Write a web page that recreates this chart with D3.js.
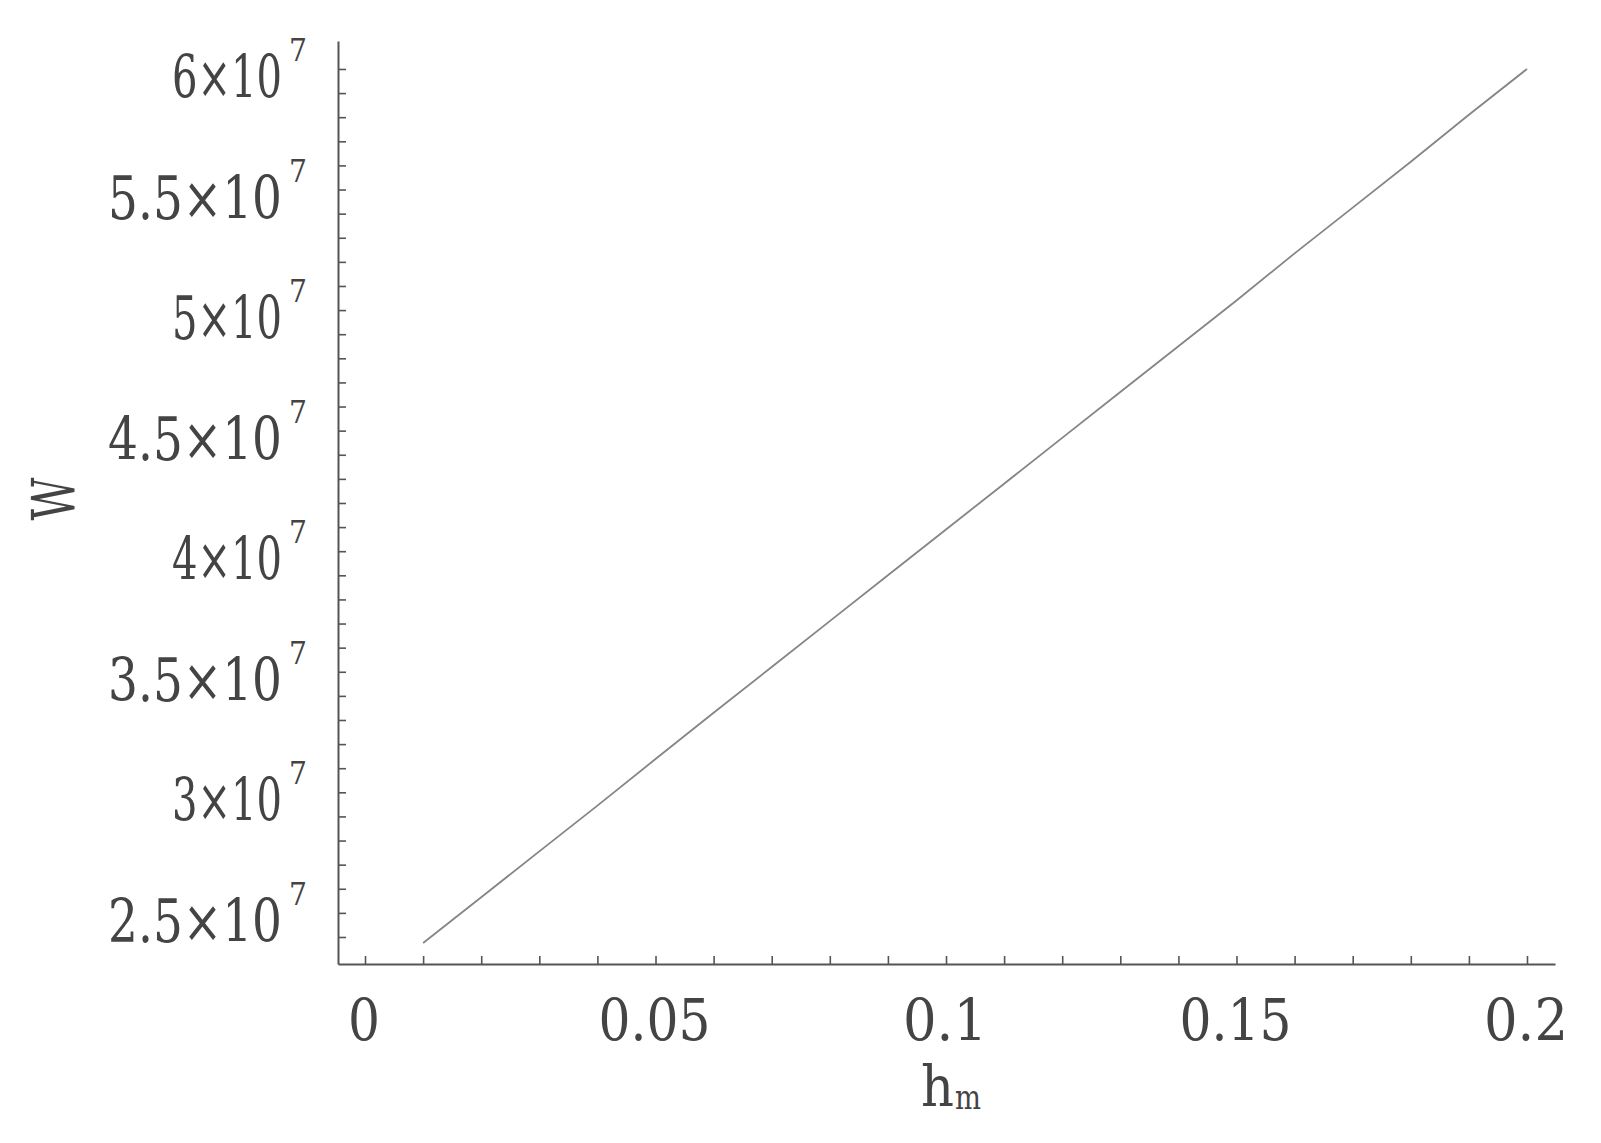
<!DOCTYPE html>
<html>
<head>
<meta charset="utf-8">
<script src="https://cdn.jsdelivr.net/npm/d3@7"></script>
<style>
  html, body { margin: 0; padding: 0; background: #fff; }
  svg { display: block; }
  text { font-family: "DejaVu Serif Condensed", "DejaVu Serif", serif; fill: #444; }
</style>
</head>
<body>
<svg id="chart" width="1601" height="1143"></svg>
<script>
// ---- data ----
const hValues = [0.01, 0.02, 0.03, 0.04, 0.05, 0.06, 0.07, 0.08, 0.09, 0.10,
                 0.11, 0.12, 0.13, 0.14, 0.15, 0.16, 0.17, 0.18, 0.19, 0.20];
const wValues = [2.375e7, 2.565e7, 2.755e7, 2.945e7, 3.138e7, 3.33e7, 3.52e7, 3.71e7, 3.90e7, 4.09e7,
                 4.28e7, 4.47e7, 4.66e7, 4.85e7, 5.04e7, 5.235e7, 5.425e7, 5.615e7, 5.81e7, 6.00e7];

const xTickValues = [0, 0.05, 0.1, 0.15, 0.2];
const xTickLabels = ["0", "0.05", "0.1", "0.15", "0.2"];
const xMinorTicks = d3.range(0, 21).map(i => i / 100);

const yTickValues = [2.5e7, 3e7, 3.5e7, 4e7, 4.5e7, 5e7, 5.5e7, 6e7];
const yTickMantissas = ["2.5", "3", "3.5", "4", "4.5", "5", "5.5", "6"];
const yTickExponent = "7";
const yMinorTicks = d3.range(24, 61).map(i => i * 1e6);

const xTitle = "h";
const xTitleSub = "m";
const yTitle = "W";

// ---- layout ----
const svg = d3.select("#chart");
const x = d3.scaleLinear().domain([-0.00465, 0.20482]).range([338, 1555]);
const y = d3.scaleLinear().domain([2.288e7, 6.116e7]).range([964, 41]);

const axisColor = "#555";

// squeeze a text horizontally to a target width; anchor: "start" | "middle" | "end"
function fitText(node, px, py, width, anchor) {
  const t = d3.select(node).attr("x", 0).attr("y", 0).attr("text-anchor", anchor);
  const natural = node.getComputedTextLength();
  const k = width / natural;
  t.attr("transform", `translate(${px},${py}) scale(${k},1)`);
}

// x axis (ticks pointing inward/up)
const gx = svg.append("g").attr("transform", `translate(0,${y.range()[0]})`)
  .call(d3.axisBottom(x).tickValues(xMinorTicks).tickSizeInner(-8).tickSizeOuter(0).tickFormat(""));
gx.select(".domain").attr("stroke", axisColor).attr("stroke-width", 2);
gx.selectAll(".tick line").attr("stroke", axisColor).attr("stroke-width", 1.6);

// y axis (ticks pointing inward/right)
const gy = svg.append("g").attr("transform", `translate(${x.range()[0]},0)`)
  .call(d3.axisLeft(y).tickValues(yMinorTicks).tickSizeInner(-8).tickSizeOuter(0).tickFormat(""));
gy.select(".domain").attr("stroke", axisColor).attr("stroke-width", 2);
gy.selectAll(".tick line").attr("stroke", axisColor).attr("stroke-width", 1.6);

// x tick labels
const xLabelWidth = s => s.length === 1 ? 32 : (s.length === 3 ? 84 : 112);
svg.append("g").selectAll("text").data(xTickValues).join("text")
  .attr("font-size", 58)
  .text((d, i) => xTickLabels[i])
  .each(function (d, i) { fitText(this, x(d) - 1, 1040, xLabelWidth(xTickLabels[i]), "middle"); });

// y tick labels: "m×10" squeezed, exponent as separate small text
const yLab = svg.append("g").selectAll("g").data(yTickValues).join("g");
yLab.append("text")
  .attr("font-size", 60)
  .text((d, i) => yTickMantissas[i] + "\u00d710")
  .each(function (d, i) {
    fitText(this, 282, y(d) + 29, yTickMantissas[i].length === 1 ? 110 : 174, "end");
  });
yLab.append("text")
  .attr("font-size", 32)
  .attr("fill", "#777")
  .text(yTickExponent)
  .each(function (d) { fitText(this, 289, y(d) - 8, 18, "start"); });

// axis titles
svg.append("text")
  .attr("font-size", 60)
  .text(yTitle)
  .each(function () {
    const natural = this.getComputedTextLength();
    d3.select(this).attr("x", 0).attr("y", 0).attr("text-anchor", "middle")
      .attr("transform", `translate(75,499) rotate(-90) scale(${43 / natural},1)`);
  });

svg.append("text")
  .attr("font-size", 56)
  .text(xTitle)
  .each(function () { fitText(this, 921, 1106, 33, "start"); });
svg.append("text")
  .attr("font-size", 34)
  .attr("fill", "#888")
  .text(xTitleSub)
  .each(function () { fitText(this, 955, 1109, 26, "start"); });

// curve
const line = d3.line().x((d, i) => x(hValues[i])).y(d => y(d));
svg.append("path")
  .datum(wValues)
  .attr("d", line)
  .attr("fill", "none")
  .attr("stroke", "#858585")
  .attr("stroke-width", 1.8);
</script>
</body>
</html>
